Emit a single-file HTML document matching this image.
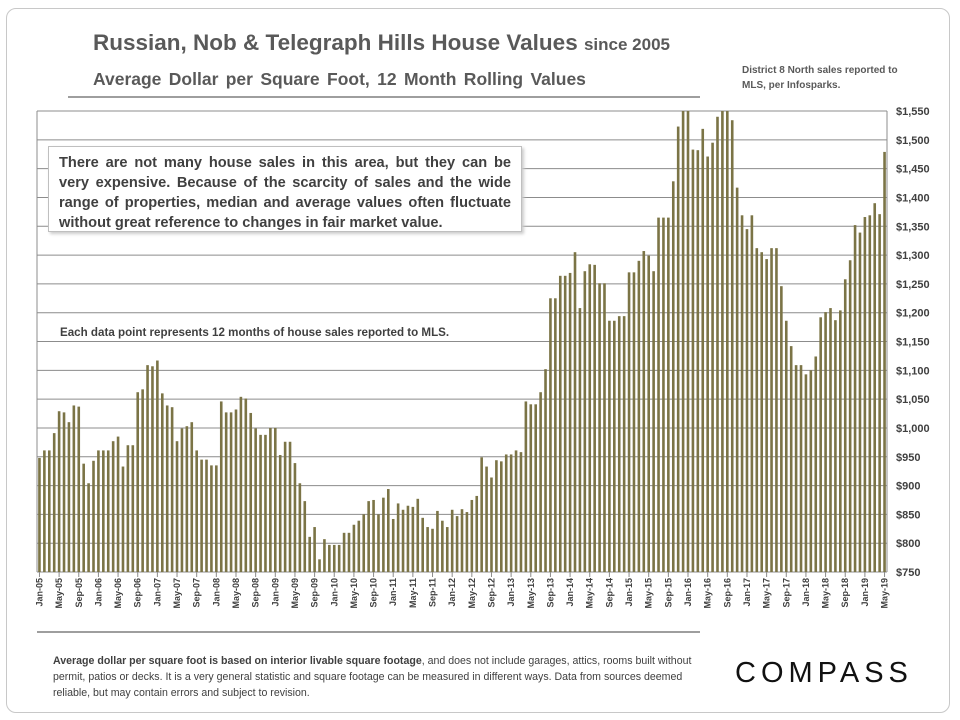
<!DOCTYPE html>
<html><head><meta charset="utf-8">
<style>
body{margin:0;background:#fff;font-family:"Liberation Sans",sans-serif;}
#wrap{position:relative;width:960px;height:720px;overflow:hidden;}
.frame{position:absolute;left:6px;top:8px;width:942px;height:703px;border:1px solid #c8c8c8;border-radius:10px;}
.t1{position:absolute;left:93px;top:30px;font-size:22.5px;font-weight:bold;color:#595959;white-space:nowrap;}
.t1 span{font-size:17px;}
.t2{position:absolute;left:93px;top:69px;font-size:17.5px;font-weight:bold;color:#595959;white-space:nowrap;word-spacing:2.5px;}
.src{position:absolute;left:742px;top:63px;font-size:10px;font-weight:bold;color:#595959;line-height:15px;}
.note{position:absolute;left:48px;top:146px;width:452px;height:72px;padding:6px 10px;background:#fff;border:1px solid #bfbfbf;box-shadow:2px 2px 3px #ccc;font-size:14.6px;font-weight:bold;color:#404040;line-height:20px;text-align:justify;}
.each{position:absolute;left:60px;top:326px;font-size:11.6px;font-weight:bold;color:#404040;white-space:nowrap;}
.foot{position:absolute;left:53px;top:653px;width:650px;font-size:10.6px;color:#404040;line-height:16px;}
.logo{position:absolute;left:735px;top:657px;font-size:29px;letter-spacing:5px;color:#111;}
</style></head><body>
<div id="wrap">
<div class="frame"></div>
<div class="t1">Russian, Nob &amp; Telegraph Hills House Values <span>since 2005</span></div>
<div class="t2">Average Dollar per Square Foot, 12 Month Rolling Values</div>
<div class="src">District 8 North sales reported to<br>MLS, per Infosparks.</div>
<svg id="chart" width="960" height="720" style="position:absolute;left:0;top:0"></svg>
<div class="note">There are not many house sales in this area, but they can be very expensive. Because of the scarcity of sales and the wide range of properties, median and average values often fluctuate without great reference to changes in fair market value.</div>
<div class="each">Each data point represents 12 months of house sales reported to MLS.</div>
<div class="foot"><b>Average dollar per square foot is based on interior livable square footage</b>, and does not include garages, attics, rooms built without permit, patios or decks. It is a very general statistic and square footage can be measured in different ways. Data from sources deemed reliable, but may contain errors and subject to revision.</div>
<div class="logo">COMPASS</div>
</div>
<script>
const values=[948,961,961,991,1029,1027,1010,1039,1037,938,904,943,961,961,961,977,985,933,970,970,1062,1067,1109,1107,1117,1060,1039,1036,977,999,1003,1010,961,945,945,935,935,1046,1027,1027,1032,1054,1051,1026,999,988,988,1000,1000,953,976,976,939,904,873,811,828,772,807,797,797,797,818,818,832,839,850,873,875,850,879,894,842,869,858,865,863,877,844,828,825,856,839,828,858,847,859,854,875,882,949,933,914,944,942,954,954,961,958,1046,1041,1041,1062,1102,1225,1225,1264,1264,1269,1305,1208,1272,1284,1283,1251,1251,1186,1186,1194,1194,1270,1270,1290,1307,1299,1272,1365,1365,1365,1428,1523,1550,1550,1483,1482,1519,1471,1495,1540,1550,1550,1534,1417,1369,1345,1369,1312,1305,1293,1312,1312,1246,1186,1142,1109,1109,1093,1100,1124,1192,1201,1208,1187,1204,1258,1291,1352,1339,1366,1369,1390,1371,1479];
const monthNames=["Jan","Feb","Mar","Apr","May","Jun","Jul","Aug","Sep","Oct","Nov","Dec"];
const categories=values.map((v,i)=>monthNames[i%12]+"-"+String(5+Math.floor(i/12)).padStart(2,"0"));
const yTicks=[750,800,850,900,950,1000,1050,1100,1150,1200,1250,1300,1350,1400,1450,1500,1550];
const NS="http://www.w3.org/2000/svg";
const svg=document.getElementById('chart');
const X0=37,X1=887,Y0=572,Y1=111,vmin=750,vmax=1550;
const n=values.length,step=(X1-X0)/n;
const y=v=>Y0-(Math.min(v,vmax)-vmin)/(vmax-vmin)*(Y0-Y1);
const x=i=>X0+step*(i+0.5);
function el(t,a){const e=document.createElementNS(NS,t);for(const k in a)e.setAttribute(k,a[k]);svg.appendChild(e);return e;}
const hl=el('line',{x1:68,y1:97,x2:700,y2:97,stroke:'#7f7f7f','stroke-width':1.5});


yTicks.forEach(t=>{
 const g=el('line',{x1:X0,x2:X1,y1:y(t),y2:y(t),stroke:'#8c8c8c','stroke-width':1});
 
 
 const tx=el('text',{x:896,y:y(t)+4,'font-size':11,'font-weight':'bold',fill:'#404040','font-family':'Liberation Sans, sans-serif'});
 tx.textContent='$'+t.toLocaleString('en-US');
 
 
});
const ax=el('line',{x1:X0,x2:X0,y1:Y1,y2:Y0,stroke:'#8c8c8c'});


const ax2=el('line',{x1:X1,x2:X1,y1:Y1,y2:Y0,stroke:'#8c8c8c'});


values.forEach((v,i)=>{
 const b=el('rect',{x:x(i)-1.3,y:y(v),width:2.6,height:Y0-y(v),fill:'#7b7446'});
 
 
});
categories.forEach((c,i)=>{
 if(i%4)return;
 const tk=el('line',{x1:x(i),x2:x(i),y1:Y0,y2:Y0+5,stroke:'#8c8c8c'});
 
 
 const t=el('text',{x:0,y:0,'font-size':9,'font-weight':'bold',fill:'#404040','text-anchor':'end','font-family':'Liberation Sans, sans-serif',transform:`translate(${x(i)+3},${Y0+6}) rotate(-90)`});
 t.textContent=c;
 
 
});
const fl=el('line',{x1:37,y1:632,x2:700,y2:632,stroke:'#7f7f7f','stroke-width':1.5});


</script>
</body></html>
